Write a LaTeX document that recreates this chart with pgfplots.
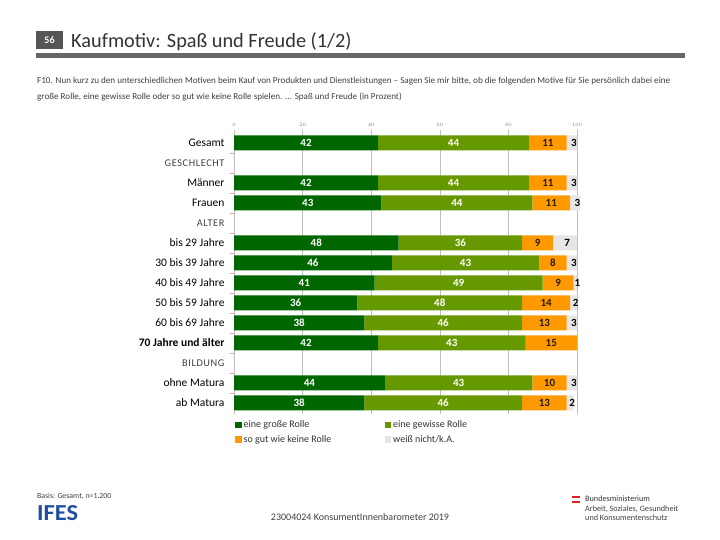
\documentclass[border=0pt]{standalone}
\usepackage{graphicx}
\usepackage{pgfplots}
\pgfplotsset{compat=1.18}
\usepackage{pgfplotstable}
\usepackage{fontspec}
\setmainfont{Carlito}
\definecolor{dg}{HTML}{006600}
\definecolor{lg}{HTML}{669900}
\definecolor{og}{HTML}{FF9900}
\definecolor{gy}{HTML}{E6E6E6}
\definecolor{txt}{HTML}{404040}
\definecolor{ttl}{HTML}{333333}
\definecolor{ifes}{HTML}{1F4E9E}
\definecolor{otxt}{HTML}{2B1B00}
\definecolor{tickc}{HTML}{D9A0B0}
\definecolor{boxc}{HTML}{555555}
\definecolor{rulec}{HTML}{666666}
\definecolor{flagr}{HTML}{E02020}
\pgfplotstableread{
pos a b c d
0 42 44 11 3
2 42 44 11 3
3 43 44 11 3
5 48 36 9 7
6 46 43 8 3
7 41 49 9 1
8 36 48 14 2
9 38 46 13 3
10 42 43 15 0
12 44 43 10 3
13 38 46 13 2
}\data
\pgfplotsset{
  common/.style={at={(234pt,410pt)}, anchor=north west,
    scale only axis, width=343pt, height=284pt,
    xmin=0, xmax=100, ymin=-0.65, ymax=13.55, y dir=reverse, clip=false},
  seg/.style={fill=#1, draw=none,
    legend image code/.code={\fill[#1] (0pt,-3.2pt) rectangle (6.5pt,3.2pt);}},
  lab/.style={only marks, mark=none, draw=none, point meta=explicit,
    nodes near coords={\pgfmathfloatifflags{\pgfplotspointmeta}{0}{}{\pgfmathprintnumber[assume math mode=true]{\pgfplotspointmeta}}},
    every node near coord/.style={text=#1, anchor=center, inner sep=0pt,
      font=\fontsize{11}{13}\selectfont\bfseries}},
}
\newcommand{\hdr}[1]{{\fontsize{10.3}{12}\selectfont\addfontfeature{LetterSpace=6}\color{txt}#1}}
\begin{document}
\begin{tikzpicture}
\fill[white] (0pt,0pt) rectangle (720pt,540pt);
% header
\fill[boxc] (36pt,490.5pt) rectangle (63pt,508.5pt);
\fill[rulec] (36pt,482pt) rectangle (685pt,487pt);
\node[text=white, font=\fontsize{10}{12}\selectfont\bfseries] at (49.5pt,499.5pt) {56};
\node[anchor=base west, inner sep=0pt, text=ttl, font=\fontsize{20.3}{24}\selectfont] at (71pt,492pt) {Kaufmotiv: Spaß und Freude (1/2)};
\node[anchor=base west, inner sep=0pt, text=txt, font=\fontsize{9.1}{10}\selectfont] at (37pt,456pt) {F10. Nun kurz zu den unterschiedlichen Motiven beim Kauf von Produkten und Dienstleistungen -- Sagen Sie mir bitte, ob die folgenden Motive für Sie persönlich dabei eine};
\node[anchor=base west, inner sep=0pt, text=txt, font=\fontsize{9.1}{10}\selectfont] at (37pt,440pt) {große Rolle, eine gewisse Rolle oder so gut wie keine Rolle spielen. ... Spaß und Freude (in Prozent)};
\begin{axis}[common,
  xbar stacked, bar width=15pt,
  axis line style={draw=none},
  xtick={0,20,...,100}, xticklabel pos=upper,
  xticklabel style={font=\fontsize{5.5}{6}\selectfont, text=gray},
  xmajorgrids, grid style={black!25, line width=0.6pt},
  major tick length=0pt,
  ytick={0,...,13},
  yticklabels={Gesamt, \hdr{GESCHLECHT}, Männer, Frauen, \hdr{ALTER}, bis 29 Jahre, 30 bis 39 Jahre, 40 bis 49 Jahre, 50 bis 59 Jahre, 60 bis 69 Jahre, {\bfseries 70 Jahre und älter}, \hdr{BILDUNG}, ohne Matura, ab Matura},
  yticklabel style={font=\fontsize{11.5}{13}\selectfont, text=black, xshift=-6pt},
  minor ytick={0.5,1.5,...,12.5}, minor tick length=4pt,
  minor y tick style={tickc, line width=0.6pt},
  tick align=outside, ytick pos=left,
  legend columns=2, legend cell align=left,
  legend style={at={(0,0)}, anchor=north west, yshift=-3.5pt, draw=none, fill=none,
    font=\fontsize{10}{12}\selectfont, text=ttl, inner sep=1pt, row sep=2pt},
]
\addplot[seg=dg] table[x=a, y=pos] {\data};
\addlegendentry{\makebox[139pt][l]{eine große Rolle}}
\addplot[seg=lg] table[x=b, y=pos] {\data};
\addlegendentry{eine gewisse Rolle}
\addplot[seg=og] table[x=c, y=pos] {\data};
\addlegendentry{\makebox[139pt][l]{so gut wie keine Rolle}}
\addplot[seg=gy] table[x=d, y=pos] {\data};
\addlegendentry{weiß nicht/k.A.}
\end{axis}
\begin{axis}[common, hide axis]
\addplot[lab=white] table[x expr={\thisrow{a}/2}, y=pos, meta=a] {\data};
\addplot[lab=white] table[x expr={\thisrow{a}+\thisrow{b}/2}, y=pos, meta=b] {\data};
\addplot[lab=otxt] table[x expr={\thisrow{a}+\thisrow{b}+\thisrow{c}/2}, y=pos, meta=c] {\data};
\addplot[lab=black] table[x expr={\thisrow{a}+\thisrow{b}+\thisrow{c}+\thisrow{d}/2+0.6}, y=pos, meta=d] {\data};
\end{axis}
% footer
\node[anchor=base west, inner sep=0pt, text=txt, font=\fontsize{7.8}{9}\selectfont] at (37pt,41pt) {Basis: Gesamt, n=1.200};
\node[anchor=south west, inner sep=0pt, text=ifes] at (37pt,19pt) {\resizebox{41pt}{15pt}{\bfseries IFES}};
\node[anchor=base, inner sep=0pt, text=txt, font=\fontsize{10}{12}\selectfont] at (360pt,19pt) {23004024 KonsumentInnenbarometer 2019};
\fill[flagr] (572pt,42pt) rectangle (580pt,44pt);
\fill[flagr] (572pt,37pt) rectangle (580pt,39pt);
\node[anchor=base west, inner sep=0pt, text=ttl, font=\fontsize{8.2}{9}\selectfont] at (585pt,38pt) {Bundesministerium};
\node[anchor=base west, inner sep=0pt, text=txt, font=\fontsize{8.2}{9}\selectfont] at (585pt,28pt) {Arbeit, Soziales, Gesundheit};
\node[anchor=base west, inner sep=0pt, text=txt, font=\fontsize{8.2}{9}\selectfont] at (585pt,19pt) {und Konsumentenschutz};
\end{tikzpicture}
\end{document}
